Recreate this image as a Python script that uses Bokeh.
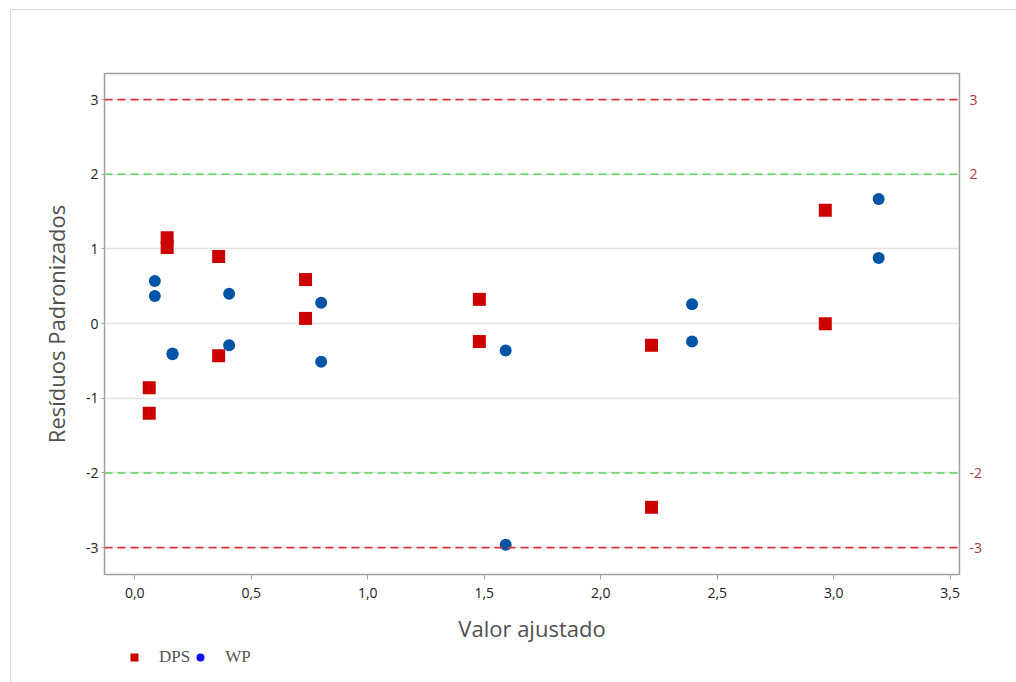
from bokeh.plotting import figure
from bokeh.layouts import column
from bokeh.models import (Range1d, LinearAxis, FixedTicker, Span, Legend, LegendItem,
                          ColumnDataSource)
from bokeh.embed import file_html
from bokeh.resources import INLINE

# ---- data ----
dps_x = [0.062, 0.062, 0.139, 0.139, 0.36, 0.36, 0.733, 0.733, 1.479, 1.479, 2.218, 2.218, 2.964, 2.964]
dps_y = [-0.86, -1.20, 1.15, 1.02, 0.90, -0.43, 0.59, 0.07, 0.325, -0.24, -0.29, -2.46, 1.52, 0.00]
wp_x = [0.086, 0.086, 0.162, 0.162, 0.405, 0.405, 0.80, 0.80, 1.592, 1.592, 2.392, 2.392, 3.193, 3.193]
wp_y = [0.57, 0.37, -0.40, -0.41, 0.40, -0.29, 0.28, -0.51, -0.36, -2.96, 0.26, -0.24, 1.67, 0.88]
x_ticks = [0.0, 0.5, 1.0, 1.5, 2.0, 2.5, 3.0, 3.5]
x_tick_labels = ["0,0", "0,5", "1,0", "1,5", "2,0", "2,5", "3,0", "3,5"]
y_ticks = [-3, -2, -1, 0, 1, 2, 3]
y_tick_labels = ["-3", "-2", "-1", "0", "1", "2", "3"]
ref_red = [3, -3]
ref_green = [2, -2]
right_ticks = [3, 2, -2, -3]
right_tick_labels = ["3", "2", "-2", "-3"]
series_names = ["DPS", "WP"]

FONT = "Open Sans"
W = 1006

p = figure(width=W, height=637, output_backend="svg", toolbar_location=None,
           x_range=Range1d(-0.13, 3.54), y_range=Range1d(-3.36, 3.35),
           min_border_left=93, min_border_right=58, min_border_top=63, min_border_bottom=73,
           background_fill_color="white", border_fill_color="white")

p.outline_line_color = "#a0a0a0"
p.outline_line_width = 1.5

# grid
p.xgrid.visible = False
p.ygrid.ticker = FixedTicker(ticks=y_ticks)
p.ygrid.grid_line_color = "#e3e3e3"
p.ygrid.grid_line_width = 1.5

# bottom axis
xa = p.xaxis[0]
xa.ticker = FixedTicker(ticks=x_ticks)
xa.major_label_overrides = {t: l for t, l in zip(x_ticks, x_tick_labels)}
xa.axis_label = "Valor ajustado"
xa.axis_label_text_font = FONT
xa.axis_label_text_font_size = "22px"
xa.axis_label_text_font_style = "normal"
xa.axis_label_text_color = "#505050"
xa.axis_label_standoff = 12
xa.major_label_text_font = FONT
xa.major_label_text_font_size = "14px"
xa.major_label_text_color = "#222222"
xa.major_label_standoff = 8
xa.major_tick_in = 0
xa.major_tick_out = 5
xa.minor_tick_line_color = None
xa.axis_line_color = "#a0a0a0"
xa.major_tick_line_color = "#a0a0a0"

# left axis
ya = p.yaxis[0]
ya.ticker = FixedTicker(ticks=y_ticks)
ya.major_label_overrides = {t: l for t, l in zip(y_ticks, y_tick_labels)}
ya.axis_label = "Resíduos Padronizados"
ya.axis_label_text_font = FONT
ya.axis_label_text_font_size = "22px"
ya.axis_label_text_font_style = "normal"
ya.axis_label_text_color = "#505050"
ya.axis_label_standoff = 12
ya.major_label_text_font = FONT
ya.major_label_text_font_size = "14px"
ya.major_label_text_color = "#222222"
ya.major_label_standoff = 3
ya.major_tick_in = 0
ya.major_tick_out = 3
ya.minor_tick_line_color = None
ya.axis_line_color = "#a0a0a0"
ya.major_tick_line_color = "#a0a0a0"

# right axis
ra = LinearAxis(ticker=FixedTicker(ticks=right_ticks))
ra.major_label_overrides = {t: l for t, l in zip(right_ticks, right_tick_labels)}
ra.major_label_text_font = FONT
ra.major_label_text_font_size = "14px"
ra.major_label_text_color = "#b03a3a"
ra.major_label_standoff = 4
ra.major_tick_line_color = None
ra.minor_tick_line_color = None
ra.axis_line_color = "#a0a0a0"
p.add_layout(ra, "right")

# reference lines
for v in ref_red:
    p.add_layout(Span(location=v, dimension="width", line_color="#d93a3a",
                      line_dash="8 5", line_width=1.6))
for v in ref_green:
    p.add_layout(Span(location=v, dimension="width", line_color="#5ad85a",
                      line_dash="8 5", line_width=1.6))

# points
src_dps = ColumnDataSource(dict(x=dps_x, y=dps_y))
src_wp = ColumnDataSource(dict(x=wp_x, y=wp_y))
p.scatter("x", "y", source=src_dps, marker="square", size=13,
          fill_color="#cc0000", line_color="#cc0000", line_width=0)
p.scatter("x", "y", source=src_wp, marker="circle", size=12,
          fill_color="#0054a6", line_color="#0054a6", line_width=0)

# legend strip below the plot (same data, ranges chosen so only the legend shows)
lf = figure(width=W, height=36, output_backend="svg", toolbar_location=None,
            x_range=Range1d(100, 101), y_range=Range1d(100, 101),
            x_axis_location=None, y_axis_location=None,
            min_border_left=93, min_border_right=58, min_border_top=0, min_border_bottom=0,
            background_fill_color="white", border_fill_color="white")
lf.grid.visible = False
lf.outline_line_color = None
leg_dps = lf.scatter("x", "y", source=src_dps, marker="square", size=12,
                     fill_color="#cc0000", line_color="#cc0000", line_width=0)
leg_wp = lf.scatter("x", "y", source=src_wp, marker="circle", size=11,
                    fill_color="#1010ee", line_color="#1010ee", line_width=0)
legend = Legend(items=[LegendItem(label=series_names[0], renderers=[leg_dps]),
                       LegendItem(label=series_names[1], renderers=[leg_wp])],
                orientation="horizontal", location=(20, 16),
                label_text_font="Liberation Serif", label_text_font_size="17px",
                label_text_color="#555555", label_standoff=15, spacing=0,
                glyph_width=20, glyph_height=20, label_height=20,
                padding=0, margin=0, border_line_color=None, background_fill_alpha=0)
lf.add_layout(legend, "center")

layout = column(p, lf, spacing=0)
layout.styles = {"border-top": "1px solid #dcdcdc", "border-left": "1px solid #dcdcdc",
                 "margin-left": "10px", "margin-top": "9px"}

open("out.html", "w").write(file_html(layout, INLINE))
